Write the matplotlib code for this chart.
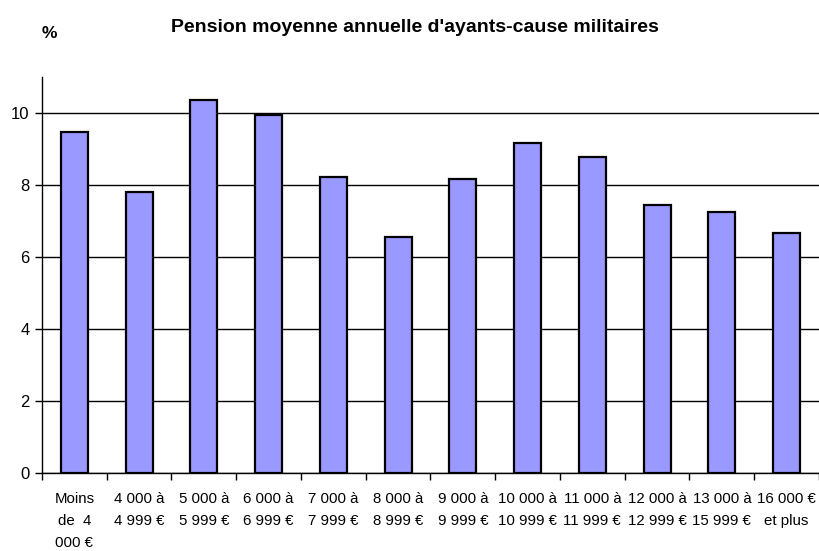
import matplotlib.pyplot as plt

# données
categories = ["Moins\nde  4\n000 €", "4 000 à\n4 999 €", "5 000 à\n5 999 €", "6 000 à\n6 999 €",
              "7 000 à\n7 999 €", "8 000 à\n8 999 €", "9 000 à\n9 999 €", "10 000 à\n10 999 €",
              "11 000 à\n11 999 €", "12 000 à\n12 999 €", "13 000 à\n15 999 €", "16 000 €\net plus"]
values = [9.48, 7.81, 10.35, 9.94, 8.22, 6.55, 8.17, 9.16, 8.79, 7.45, 7.25, 6.67]
yticks = [0, 2, 4, 6, 8, 10]

plt.rcParams['font.family'] = ['Liberation Sans', 'DejaVu Sans']

fig = plt.figure(figsize=(8.2, 5.51), dpi=100)
ax = fig.add_axes([42 / 820, 78 / 551, 777 / 820, 396 / 551])

x = list(range(len(categories)))
ax.bar(x, values, width=0.42, color='#9999FF', edgecolor='black', linewidth=1.6, zorder=3)

ax.set_xlim(-0.5, len(categories) - 0.5)
ax.set_ylim(0, 11)
ax.set_yticks(yticks)
ax.set_yticklabels([str(t) for t in yticks], fontsize=12)
ax.yaxis.grid(True, color='black', linewidth=1.0, zorder=0)
ax.set_axisbelow(True)

# ticks aux limites des catégories, étiquettes au centre
ax.set_xticks([i - 0.5 for i in range(len(categories) + 1)])
ax.set_xticklabels([])
ax.set_xticks(x, minor=True)
ax.set_xticklabels(categories, minor=True, fontsize=10.8, linespacing=1.7, va='top')
ax.tick_params(axis='x', which='minor', length=0, pad=14)
ax.tick_params(axis='x', which='major', direction='out', length=5, width=1)
ax.tick_params(axis='y', direction='out', length=5, width=1, pad=4)

for s in ['top', 'right']:
    ax.spines[s].set_visible(False)
ax.spines['left'].set_linewidth(1)
ax.spines['bottom'].set_linewidth(1)

fig.text(415 / 820, 1 - 27 / 551, "Pension moyenne annuelle d'ayants-cause militaires",
         ha='center', va='center', fontsize=14, fontweight='bold')
fig.text(49 / 820, 1 - 33 / 551, "%", ha='center', va='center', fontsize=12.5,
         fontweight='bold')

plt.savefig("out.png", dpi=100)
